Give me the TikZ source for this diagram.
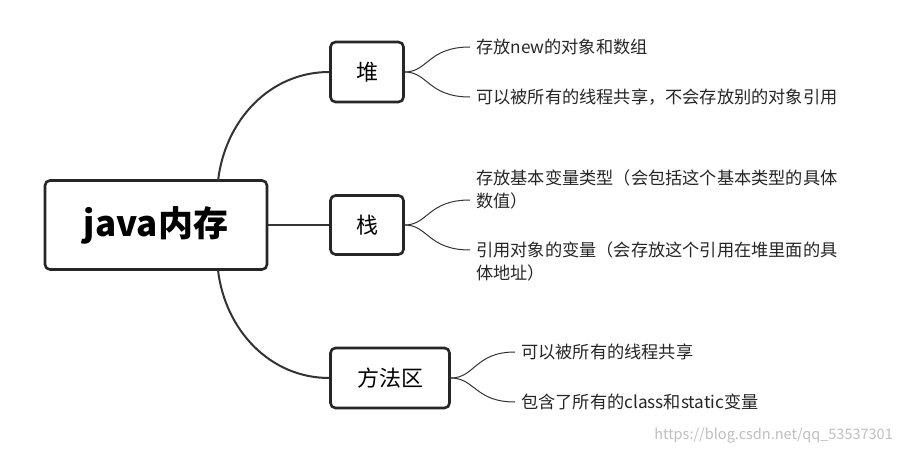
\documentclass[tikz,border=0pt]{standalone}
\usepackage{fontspec}
\setmainfont{Noto Sans CJK SC}
\begin{document}
\begin{tikzpicture}[x=1pt,y=-1pt,
 box/.style={draw=black!85,line width=2.6pt,rounded corners=5pt,fill=white,inner sep=0pt},
 con/.style={draw=black!80,line width=2pt},
 br/.style={draw=black!80,line width=1pt},
 leaf/.style={anchor=west,font=\fontsize{17.2}{23}\selectfont,text=black!85,inner sep=0pt,align=left}]
\useasboundingbox (0,0) rectangle (900,454);
\fill[white] (0,0) rectangle (900,454);
\node[box,minimum width=222pt,minimum height=89pt,font=\fontsize{35}{40}\bfseries\selectfont] (root) at (156,225) {java内存};
\node[box,minimum width=73pt,minimum height=60pt,font=\fontsize{22}{26}\selectfont] (heap) at (367,72) {堆};
\node[box,minimum width=73pt,minimum height=59pt,font=\fontsize{22}{26}\selectfont] (stack) at (367,225) {栈};
\node[box,minimum width=119pt,minimum height=60pt,font=\fontsize{22}{26}\selectfont] (meth) at (390,378) {方法区};
\coordinate (rt) at (218,181); \coordinate (rb) at (218,270);
\draw[con] (rt) .. controls (225,120) and (270,72) .. (heap.west);
\draw[con] (root.east) -- (stack.west);
\draw[con] (rb) .. controls (225,330) and (270,378) .. (meth.west);
\node[leaf] (h1) at (476,47) {存放new的对象和数组};
\node[leaf] (h2) at (476,97) {可以被所有的线程共享，不会存放别的对象引用};
\node[leaf] (s1) at (476,189) {存放基本变量类型（会包括这个基本类型的具体\\数值）};
\node[leaf] (s2) at (476,261) {引用对象的变量（会存放这个引用在堆里面的具\\体地址）};
\node[leaf] (m1) at (521,352) {可以被所有的线程共享};
\node[leaf] (m2) at (521,402) {包含了所有的class和static变量};
\coordinate (h1e) at (470,47); \coordinate (h2e) at (470,97);
\coordinate (s1e) at (470,200); \coordinate (s2e) at (470,250);
\coordinate (m1e) at (515,352); \coordinate (m2e) at (515,402);
\draw[br] (heap.east) .. controls (428,72) and (428,47) .. (h1e);
\draw[br] (heap.east) .. controls (428,72) and (428,97) .. (h2e);
\draw[br] (stack.east) .. controls (428,225) and (428,200) .. (s1e);
\draw[br] (stack.east) .. controls (428,225) and (428,250) .. (s2e);
\draw[br] (meth.east) .. controls (475,378) and (475,352) .. (m1e);
\draw[br] (meth.east) .. controls (475,378) and (475,402) .. (m2e);
\node[anchor=east,font=\fontsize{14.5}{16}\selectfont,text=black!25,inner sep=0pt] (wm) at (893,436) {https://blog.csdn.net/qq\_53537301};
\end{tikzpicture}
\end{document}
